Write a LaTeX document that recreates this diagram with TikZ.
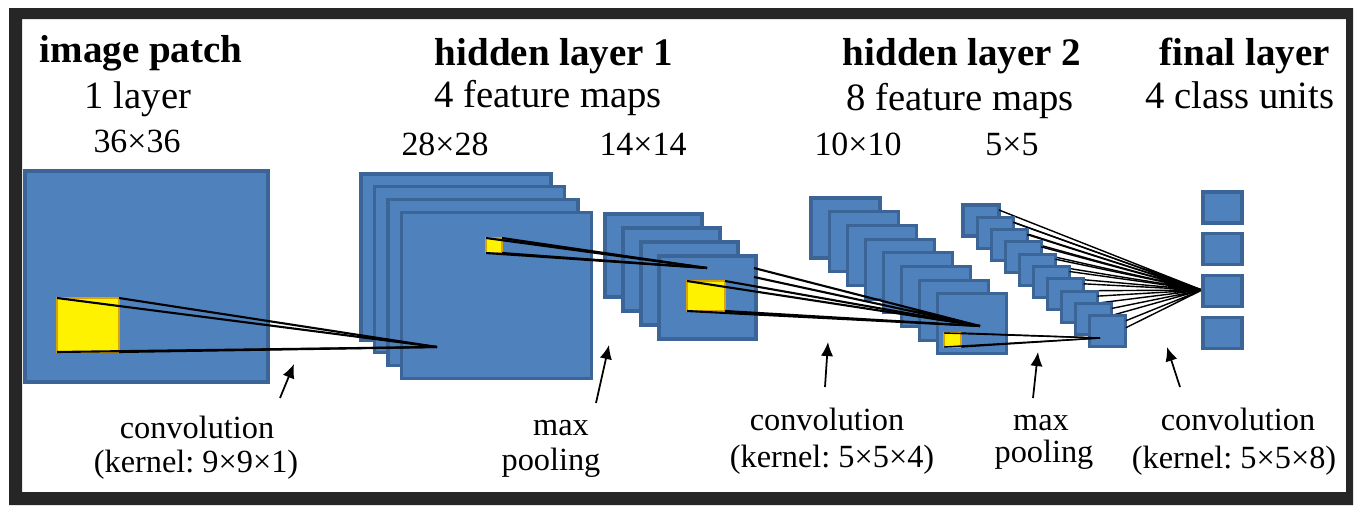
\documentclass[tikz,border=0pt]{standalone}
\usepackage{fontspec}
\setmainfont{Liberation Serif}
\frenchspacing
\usetikzlibrary{arrows.meta}
\definecolor{mapblue}{HTML}{4F81BD}
\definecolor{mapedge}{HTML}{3A6596}
\definecolor{kernedge}{HTML}{D9A400}
\definecolor{framegray}{HTML}{262626}

\begin{document}
\begin{tikzpicture}[x=0.02cm,y=-0.02cm,
		fmap/.style={fill=mapblue,draw=mapedge,line width=1.8pt},
		kern/.style={fill=yellow,draw=kernedge,line width=1.2pt,inner sep=0pt,outer sep=0pt},
		wire/.style={black,line width=1.2pt},
		thinwire/.style={black,line width=0.8pt},
		pointer/.style={-{Latex[length=8pt,width=7pt]},line width=1pt},
		hdrlbl/.style={anchor=base,font=\fontsize{22.2}{26}\selectfont\bfseries},
		sublbl/.style={anchor=base,font=\fontsize{22}{26}\selectfont},
		sizelbl/.style={anchor=base,font=\fontsize{19.3}{23}\selectfont},
		oplbl/.style={anchor=base,font=\fontsize{18.4}{22}\selectfont}]
	\useasboundingbox (0,0) rectangle (1367,512);
	\fill[framegray,even odd rule] (9,8) rectangle (1353,505) (22,19) rectangle (1346,492);
	
	% convergence points of the receptive fields
	\coordinate (c1) at (437,347);
	\coordinate (c2) at (707,268);
	\coordinate (c3) at (980,326);
	\coordinate (c4) at (1100,338);
	\coordinate (c5) at (1202,290);
	
	% image patch
	\draw[fmap] (25,171) rectangle (268,382);
	\node[kern,minimum width=1.24cm,minimum height=1.08cm] (k1) at (88,325) {};
	
	% hidden layer 1
	\foreach \i in {0,...,3}
	\draw[fmap] ({361+13.5*\i},{174+12.7*\i}) rectangle +(190,166);
	\node[kern,minimum width=0.32cm,minimum height=0.30cm] (k2) at (494,245.5) {};
	\foreach \i in {0,...,3}
	\draw[fmap] ({605+18*\i},{214+14*\i}) rectangle +(97,83);
	\node[kern,minimum width=0.76cm,minimum height=0.60cm] (k3) at (706,296) {};
	
	% hidden layer 2
	\foreach \i in {0,...,7}
	\draw[fmap] ({811+18.1*\i},{198+13.7*\i}) rectangle +(69,60);
	\node[kern,minimum width=0.34cm,minimum height=0.28cm] (k4) at (952.5,340) {};
	\foreach \i in {0,...,9}
	{
		\draw[fmap] ({963+14.1*\i},{205+12.3*\i}) rectangle +(36,31);
		\draw[thinwire] ({999+14.1*\i},{210+12.3*\i}) -- (c5) ({999+14.1*\i},{217+12.3*\i}) -- (c5);
	}
	
	% final layer
	\foreach \i in {0,...,3}
	\draw[fmap] (1203,{192+41.7*\i}) rectangle +(39,31);
	
	% receptive field lines
	\foreach \a in {north west,north east,south west,south east}
	{
		\draw[wire] (k1.\a) -- (c1);
		\draw[wire] (k2.\a) -- (c2);
		\draw[wire] (k3.\a) -- (c3);
		\draw[thinwire] (k4.\a) -- (c4);
	}
	\coordinate (h1) at (754,268);
	\coordinate (h2) at (754,277);
	\draw[wire] (h1) -- (c3) (h2) -- (c3);
	
	% operation arrows
	\coordinate (t1) at (280,398); \coordinate (p1) at (294,364);
	\coordinate (t2) at (596,403); \coordinate (p2) at (609,345);
	\coordinate (t3) at (825,387); \coordinate (p3) at (828,342);
	\coordinate (t4) at (1033,398); \coordinate (p4) at (1038,352);
	\coordinate (t5) at (1180,387); \coordinate (p5) at (1167,347);
	\foreach \n in {1,...,5}
	\draw[pointer] (t\n) -- (p\n);
	
	% titles
	\node[hdrlbl] (hin) at (141,62) {image patch};
	\node[hdrlbl] (hone) at (554,65) {hidden layer 1};
	\node[hdrlbl] (htwo) at (962,65) {hidden layer 2};
	\node[hdrlbl] (hout) at (1245,65) {final layer};
	\node[sublbl] (sin) at (138,108) {1 layer};
	\node[sublbl] (sone) at (548,107) {4 feature maps};
	\node[sublbl] (stwo) at (960,110) {8 feature maps};
	\node[sublbl] (sout) at (1240,108) {4 class units};
	\node[sizelbl] (zin) at (137,152) {36×36};
	\node[sizelbl] (zone) at (445,155) {28×28};
	\node[sizelbl] (zonep) at (643,155) {14×14};
	\node[sizelbl] (ztwo) at (858,155) {10×10};
	\node[sizelbl] (ztwop) at (1012,155) {5×5};
	
	% operations
	\node[oplbl] (conva) at (197,438) {convolution};
	\node[oplbl] (kerna) at (196,472) {(kernel: 9×9×1)};
	\node[oplbl] (poola) at (561,435) {max};
	\node[oplbl] (poolb) at (551,470) {pooling};
	\node[oplbl] (convb) at (827,430) {convolution};
	\node[oplbl] (kernb) at (832,467) {(kernel: 5×5×4)};
	\node[oplbl] (poolc) at (1041,430) {max};
	\node[oplbl] (poold) at (1044,462) {pooling};
	\node[oplbl] (convc) at (1238,430) {convolution};
	\node[oplbl] (kernc) at (1234,468) {(kernel: 5×5×8)};
\end{tikzpicture}
\end{document}
